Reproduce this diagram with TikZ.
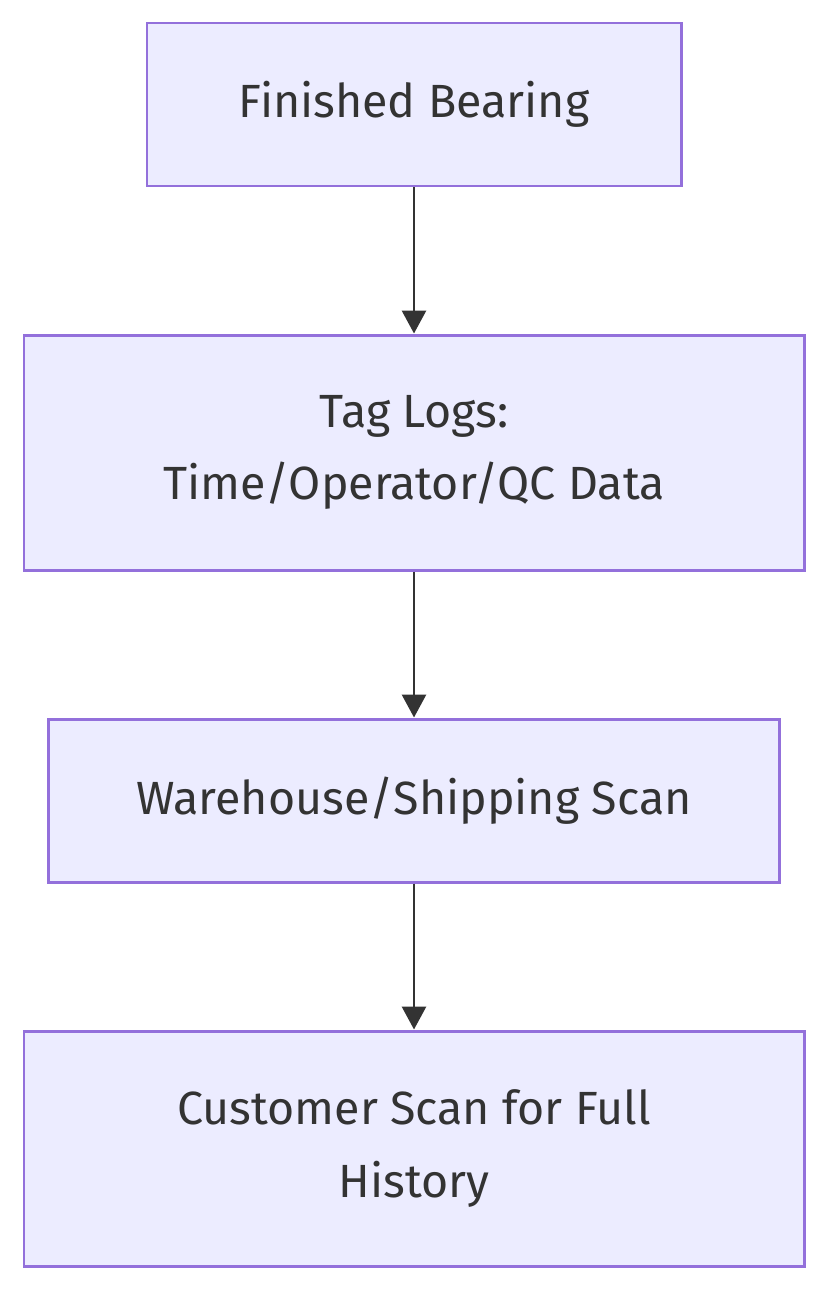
\documentclass[tikz,border=0pt]{standalone}
\usepackage{fontspec}
\setmainfont{Fira Sans}
\usepackage{xcolor}
\usepackage{tikz}
\usetikzlibrary{positioning,arrows.meta}
\definecolor{boxfill}{HTML}{ECECFF}
\definecolor{boxline}{HTML}{9370DB}
\definecolor{ink}{HTML}{333333}
\tikzset{
  flowbox/.style={rectangle,draw=boxline,fill=boxfill,line width=1.7pt,
    text=ink,align=center,inner sep=0pt,
    font=\fontsize{26.5}{41}\selectfont},
  flowarrow/.style={draw=ink,line width=1.7pt,
    -{Triangle[width=0.48cm,length=0.46cm]}}}

\begin{document}
\begin{tikzpicture}
        \useasboundingbox (0,0) rectangle (16.56,-25.8);
        \begin{scope}[every node/.style={flowbox}]
            \node[minimum width=10.68cm,minimum height=3.26cm] (finished) at (8.28,-2.09) {Finished Bearing};
            \node[minimum width=15.6cm,minimum height=4.7cm] (taglogs) at (8.28,-9.05) {Tag Logs:\\Time/Operator/QC Data};
            \node[minimum width=14.62cm,minimum height=3.26cm] (warehouse) at (8.28,-16.01) {Warehouse/Shipping Scan};
            \node[minimum width=15.6cm,minimum height=4.7cm] (customer) at (8.28,-22.97) {Customer Scan for Full\\History};
        \end{scope}
        \begin{scope}[every edge/.style={flowarrow}]
            \path (finished) edge (taglogs);
            \path (taglogs) edge (warehouse);
            \path (warehouse) edge (customer);
        \end{scope}
    \end{tikzpicture}
\end{document}
